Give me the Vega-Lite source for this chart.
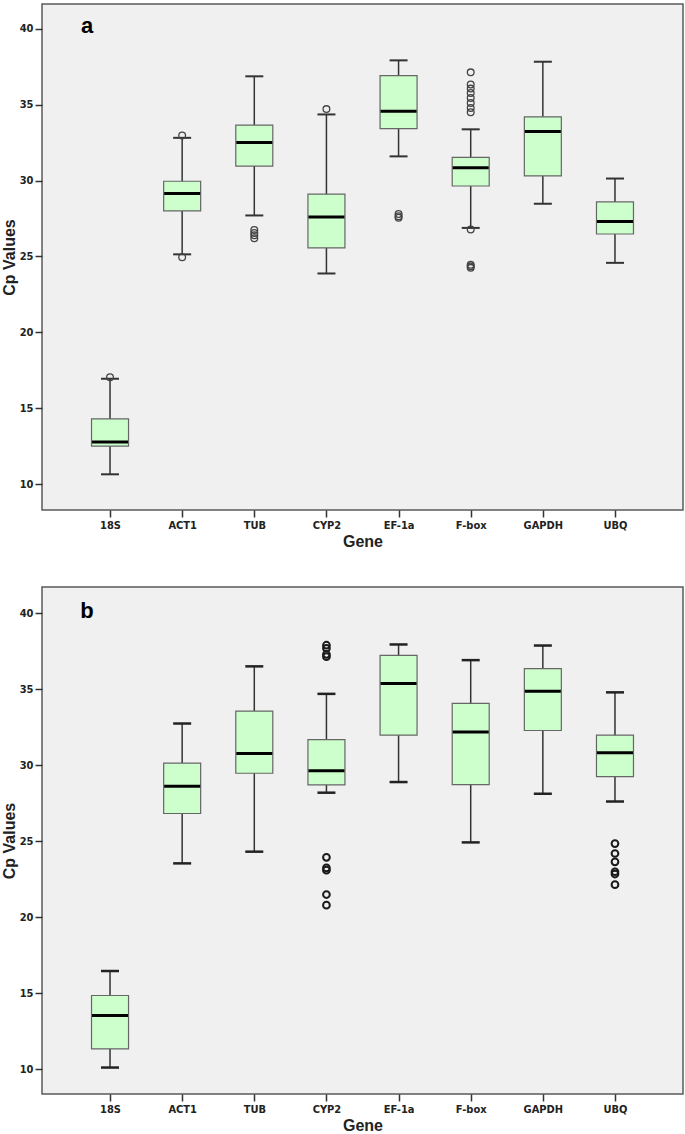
{
  "$schema": "https://vega.github.io/schema/vega-lite/v6.json",
  "background": "white",
  "padding": {"left": 0, "top": 3, "right": 3, "bottom": 0},
  "spacing": 77,
  "bounds": "flush",
  "config": {
    "view": {"stroke": "#5a5a5a", "strokeWidth": 1.5, "fill": "#f0f0f0"},
    "font": "Liberation Sans",
    "axis": {
      "domain": false,
      "grid": false,
      "tickColor": "#333333",
      "tickWidth": 1.5,
      "tickSize": 7,
      "labelFont": "'DejaVu Sans Condensed', 'Liberation Sans', sans-serif",
      "labelFontWeight": "bold",
      "labelFontSize": 11,
      "labelColor": "#222222",
      "labelPadding": 2,
      "titleFont": "Liberation Sans",
      "titleFontWeight": "bold",
      "titleFontSize": 16,
      "titleColor": "#222222"
    },
    "axisY": {"titlePadding": 2},
    "axisX": {"titlePadding": 3, "labelAngle": 0}
  },
  "datasets": {
    "boxA": [
      {"gene": "18S", "lower": 10.66, "q1": 12.51, "median": 12.79, "q3": 14.31, "upper": 16.95},
      {"gene": "ACT1", "lower": 25.14, "q1": 28.0, "median": 29.15, "q3": 29.95, "upper": 32.81},
      {"gene": "TUB", "lower": 27.7, "q1": 30.95, "median": 32.5, "q3": 33.65, "upper": 36.86},
      {"gene": "CYP2", "lower": 23.88, "q1": 25.56, "median": 27.6, "q3": 29.1, "upper": 34.35},
      {"gene": "EF-1a", "lower": 31.59, "q1": 33.41, "median": 34.56, "q3": 36.91, "upper": 37.91},
      {"gene": "F-box", "lower": 26.88, "q1": 29.64, "median": 30.84, "q3": 31.52, "upper": 33.37},
      {"gene": "GAPDH", "lower": 28.47, "q1": 30.3, "median": 33.23, "q3": 34.19, "upper": 37.82},
      {"gene": "UBQ", "lower": 24.58, "q1": 26.48, "median": 27.3, "q3": 28.59, "upper": 30.13}
    ],
    "outA": [
      {"gene": "18S", "value": 17.05},
      {"gene": "ACT1", "value": 32.97},
      {"gene": "ACT1", "value": 24.95},
      {"gene": "TUB", "value": 26.75},
      {"gene": "TUB", "value": 26.55},
      {"gene": "TUB", "value": 26.4},
      {"gene": "TUB", "value": 26.2},
      {"gene": "CYP2", "value": 34.7},
      {"gene": "EF-1a", "value": 27.8},
      {"gene": "EF-1a", "value": 27.65},
      {"gene": "EF-1a", "value": 27.55},
      {"gene": "F-box", "value": 37.12},
      {"gene": "F-box", "value": 36.32},
      {"gene": "F-box", "value": 36.05},
      {"gene": "F-box", "value": 35.76},
      {"gene": "F-box", "value": 35.43},
      {"gene": "F-box", "value": 35.1},
      {"gene": "F-box", "value": 34.78},
      {"gene": "F-box", "value": 34.49},
      {"gene": "F-box", "value": 26.78},
      {"gene": "F-box", "value": 24.45},
      {"gene": "F-box", "value": 24.35},
      {"gene": "F-box", "value": 24.25}
    ],
    "boxB": [
      {"gene": "18S", "lower": 10.12, "q1": 11.35, "median": 13.54, "q3": 14.86, "upper": 16.47},
      {"gene": "ACT1", "lower": 23.55, "q1": 26.83, "median": 28.63, "q3": 30.15, "upper": 32.75},
      {"gene": "TUB", "lower": 24.32, "q1": 29.48, "median": 30.78, "q3": 33.57, "upper": 36.51},
      {"gene": "CYP2", "lower": 28.2, "q1": 28.71, "median": 29.65, "q3": 31.69, "upper": 34.7},
      {"gene": "EF-1a", "lower": 28.9, "q1": 31.98, "median": 35.38, "q3": 37.23, "upper": 37.95},
      {"gene": "F-box", "lower": 24.93, "q1": 28.73, "median": 32.2, "q3": 34.08, "upper": 36.92},
      {"gene": "GAPDH", "lower": 28.13, "q1": 32.29, "median": 34.87, "q3": 36.36, "upper": 37.88},
      {"gene": "UBQ", "lower": 27.62, "q1": 29.26, "median": 30.83, "q3": 31.98, "upper": 34.8}
    ],
    "outB": [
      {"gene": "CYP2", "value": 37.9},
      {"gene": "CYP2", "value": 37.7},
      {"gene": "CYP2", "value": 37.3},
      {"gene": "CYP2", "value": 37.15},
      {"gene": "CYP2", "value": 23.95},
      {"gene": "CYP2", "value": 23.25},
      {"gene": "CYP2", "value": 23.1},
      {"gene": "CYP2", "value": 21.5},
      {"gene": "CYP2", "value": 20.8},
      {"gene": "UBQ", "value": 24.85},
      {"gene": "UBQ", "value": 24.2},
      {"gene": "UBQ", "value": 23.65},
      {"gene": "UBQ", "value": 23.0},
      {"gene": "UBQ", "value": 22.85},
      {"gene": "UBQ", "value": 22.15}
    ]
  },
  "vconcat": [
    {
      "width": 641,
      "height": 506,
      "encoding": {
        "x": {"field": "gene", "type": "nominal", "title": "Gene",
              "scale": {"type": "point", "padding": 0.943, "domain": ["18S", "ACT1", "TUB", "CYP2", "EF-1a", "F-box", "GAPDH", "UBQ"]}}
      },
      "layer": [
        {
          "data": {"name": "boxA"},
          "mark": {"type": "rule", "color": "#333333", "strokeWidth": 1.5},
          "encoding": {
            "y": {"field": "lower", "type": "quantitative", "title": "Cp Values",
                  "scale": {"domain": [8.31, 41.62], "nice": false, "zero": false},
                  "axis": {"values": [10, 15, 20, 25, 30, 35, 40]}},
            "y2": {"field": "upper"}
          }
        },
        {
          "data": {"name": "boxA"},
          "mark": {"type": "tick", "color": "#333333", "opacity": 1, "thickness": 2, "size": 18},
          "encoding": {"y": {"field": "lower", "type": "quantitative", "title": "Cp Values"}}
        },
        {
          "data": {"name": "boxA"},
          "mark": {"type": "tick", "color": "#333333", "opacity": 1, "thickness": 2, "size": 18},
          "encoding": {"y": {"field": "upper", "type": "quantitative", "title": "Cp Values"}}
        },
        {
          "data": {"name": "boxA"},
          "mark": {"type": "bar", "size": 37, "fill": "#ccffcc", "stroke": "#666666", "strokeWidth": 1.2, "opacity": 1},
          "encoding": {
            "y": {"field": "q1", "type": "quantitative", "title": "Cp Values"},
            "y2": {"field": "q3"}
          }
        },
        {
          "data": {"name": "boxA"},
          "mark": {"type": "tick", "color": "#000000", "opacity": 1, "thickness": 3, "size": 36},
          "encoding": {"y": {"field": "median", "type": "quantitative", "title": "Cp Values"}}
        },
        {
          "data": {"name": "outA"},
          "mark": {"type": "point", "shape": "circle", "filled": false, "stroke": "#444444", "opacity": 1, "strokeWidth": 1.3, "size": 45},
          "encoding": {"y": {"field": "value", "type": "quantitative", "title": "Cp Values"}}
        },
        {
          "data": {"values": [{"label": "a"}]},
          "mark": {"type": "text", "font": "Liberation Sans", "fontWeight": "bold", "fontSize": 22, "align": "center", "baseline": "alphabetic", "dx": -23, "color": "#000000"},
          "encoding": {
            "x": {"datum": "18S"},
            "y": {"datum": 39.71},
            "text": {"field": "label"}
          }
        }
      ]
    },
    {
      "width": 641,
      "height": 507,
      "encoding": {
        "x": {"field": "gene", "type": "nominal", "title": "Gene",
              "scale": {"type": "point", "padding": 0.943, "domain": ["18S", "ACT1", "TUB", "CYP2", "EF-1a", "F-box", "GAPDH", "UBQ"]}}
      },
      "layer": [
        {
          "data": {"name": "boxB"},
          "mark": {"type": "rule", "color": "#333333", "strokeWidth": 1.5},
          "encoding": {
            "y": {"field": "lower", "type": "quantitative", "title": "Cp Values",
                  "scale": {"domain": [8.38, 41.73], "nice": false, "zero": false},
                  "axis": {"values": [10, 15, 20, 25, 30, 35, 40]}},
            "y2": {"field": "upper"}
          }
        },
        {
          "data": {"name": "boxB"},
          "mark": {"type": "tick", "color": "#222222", "opacity": 1, "thickness": 2.5, "size": 18},
          "encoding": {"y": {"field": "lower", "type": "quantitative", "title": "Cp Values"}}
        },
        {
          "data": {"name": "boxB"},
          "mark": {"type": "tick", "color": "#222222", "opacity": 1, "thickness": 2.5, "size": 18},
          "encoding": {"y": {"field": "upper", "type": "quantitative", "title": "Cp Values"}}
        },
        {
          "data": {"name": "boxB"},
          "mark": {"type": "bar", "size": 37, "fill": "#ccffcc", "stroke": "#666666", "strokeWidth": 1.2, "opacity": 1},
          "encoding": {
            "y": {"field": "q1", "type": "quantitative", "title": "Cp Values"},
            "y2": {"field": "q3"}
          }
        },
        {
          "data": {"name": "boxB"},
          "mark": {"type": "tick", "color": "#000000", "opacity": 1, "thickness": 3, "size": 36},
          "encoding": {"y": {"field": "median", "type": "quantitative", "title": "Cp Values"}}
        },
        {
          "data": {"name": "outB"},
          "mark": {"type": "point", "shape": "circle", "filled": false, "stroke": "#1a1a1a", "opacity": 1, "strokeWidth": 2, "size": 45},
          "encoding": {"y": {"field": "value", "type": "quantitative", "title": "Cp Values"}}
        },
        {
          "data": {"values": [{"label": "b"}]},
          "mark": {"type": "text", "font": "Liberation Sans", "fontWeight": "bold", "fontSize": 22, "align": "center", "baseline": "alphabetic", "dx": -23, "color": "#000000"},
          "encoding": {
            "x": {"datum": "18S"},
            "y": {"datum": 39.67},
            "text": {"field": "label"}
          }
        }
      ]
    }
  ]
}
